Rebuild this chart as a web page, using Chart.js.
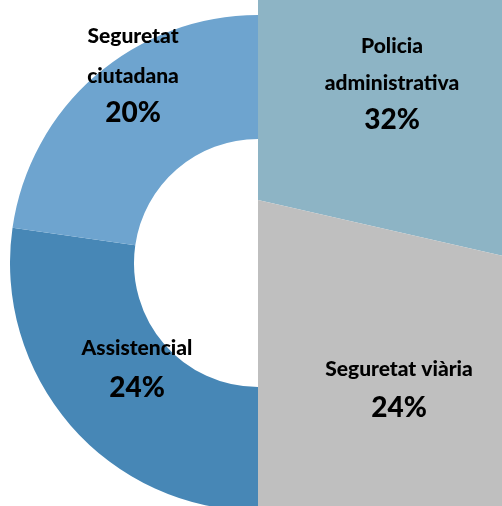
<!DOCTYPE html>
<html>
<head>
<meta charset="utf-8">
<script src="https://cdn.jsdelivr.net/npm/chart.js@4/dist/chart.umd.min.js"></script>
<style>
  html, body { margin: 0; padding: 0; background: #ffffff; }
  #wrap { position: relative; width: 502px; height: 506px; overflow: hidden; background: #ffffff; }
  canvas { position: absolute; }
</style>
</head>
<body>
<div id="wrap">
  <canvas id="rightChart" width="400" height="800" style="left:258px;top:-200px"></canvas>
  <canvas id="leftChart" width="248" height="496" style="left:10px;top:15px"></canvas>
</div>
<script>
// ---- data ----
const rightCategories = ["Policia\nadministrativa", "Seguretat viària"];
const rightValues = [32, 24];
const leftCategories = ["Assistencial", "Seguretat\nciutadana"];
const leftValues = [24, 20];
const total = 100;

// ---- styles / layout ----
const rightColors = ["#8DB4C5", "#BFBFBF"];
const leftColors = ["#4787B6", "#6EA4CF"];
const nameFont = "900 21px Lato, 'Open Sans', sans-serif";
const pctFont = "900 28px Lato, 'Open Sans', sans-serif";
// label anchors (page coordinates): centre x, first baseline, line gap, percentage baseline
const rightLabelLayout = [
  { x: 392, y: 53, gap: 37, py: 129 },
  { x: 399, y: 376, gap: 37, py: 417 }
];
const leftLabelLayout = [
  { x: 137, y: 355, gap: 37, py: 397 },
  { x: 133, y: 43, gap: 40, py: 122 }
];

function labelPlugin(categories, values, layout, originX, originY) {
  return {
    id: 'sliceLabels',
    afterDatasetsDraw(chart) {
      const ctx = chart.ctx;
      ctx.save();
      ctx.fillStyle = '#000000';
      ctx.textAlign = 'center';
      ctx.textBaseline = 'alphabetic';
      categories.forEach((cat, i) => {
        const L = layout[i];
        const lines = cat.split('\n');
        ctx.font = nameFont;
        lines.forEach((ln, k) => {
          ctx.fillText(ln, L.x - originX, L.y + k * L.gap - originY);
        });
        ctx.font = pctFont;
        const pct = Math.round(values[i] / total * 100) + '%';
        ctx.fillText(pct, L.x - originX, L.py - originY);
      });
      ctx.restore();
    }
  };
}

const common = {
  responsive: false,
  animation: false,
  events: [],
  layout: { padding: 0 },
  plugins: { legend: { display: false }, tooltip: { enabled: false } }
};

// right half: solid half-pie (no hole), large radius clipped by the frame
new Chart(document.getElementById('rightChart'), {
  type: 'pie',
  data: {
    labels: rightCategories,
    datasets: [{
      data: rightValues,
      backgroundColor: rightColors,
      borderWidth: 0
    }]
  },
  options: Object.assign({}, common, {
    rotation: 0,
    circumference: 180,
    cutout: 0
  }),
  plugins: [labelPlugin(rightCategories, rightValues, rightLabelLayout, 258, -200)]
});

// left half: half-doughnut
new Chart(document.getElementById('leftChart'), {
  type: 'doughnut',
  data: {
    labels: leftCategories,
    datasets: [{
      data: leftValues,
      backgroundColor: leftColors,
      borderWidth: 0
    }]
  },
  options: Object.assign({}, common, {
    rotation: 180,
    circumference: 180,
    cutout: '50%'
  }),
  plugins: [labelPlugin(leftCategories, leftValues, leftLabelLayout, 10, 15)]
});
</script>
</body>
</html>
